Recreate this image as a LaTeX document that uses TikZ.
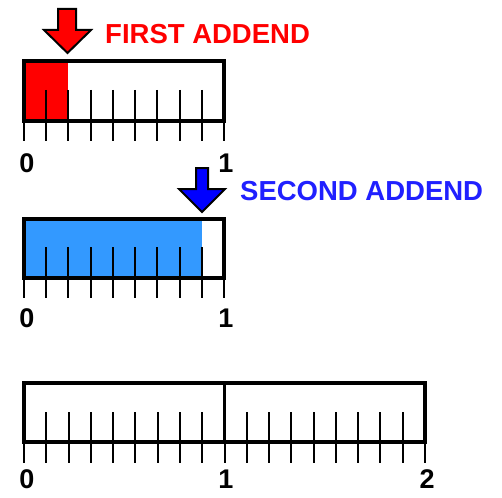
\documentclass[tikz,border=0pt]{standalone}
\usepackage{fontspec}
\setmainfont{Liberation Sans}
\begin{document}
\begin{tikzpicture}[x=1pt,y=-1pt,
  barbox/.style={draw=black,line width=3.4pt},
  tick/.style={draw=black,line width=2pt},
  arrowshape/.style={draw=black,line width=2pt,line join=miter},
  lbl/.style={font=\fontsize{27}{27}\selectfont\bfseries,inner sep=0pt,anchor=base},
  title/.style={font=\fontsize{27.5}{27.5}\selectfont\bfseries,inner sep=0pt,anchor=base west}]
\definecolor{addred}{HTML}{FF0000}
\definecolor{addblue}{HTML}{3399FF}
\definecolor{txtblue}{HTML}{2020FF}
\useasboundingbox (0,0) rectangle (502,497);
\fill[white] (0,0) rectangle (502,497);

% ---- bar 1 ----
\fill[addred] (24,61) rectangle ({24+2*200/9},121);
\foreach \i in {1,...,8} \draw[tick] ({24+\i*200/9},90) -- ({24+\i*200/9},121);
\foreach \i in {0,...,9} \draw[tick] ({24+\i*200/9},121) -- ({24+\i*200/9},141);
\draw[barbox] (24,61) rectangle (224,121);
\node[lbl] (a0) at (27,172) {0};
\node[lbl] (a1) at (226,172) {1};
% red arrow
\draw[arrowshape,fill=addred] (58,9) -- (76,9) -- (76,30) -- (91,30) -- (67.5,53) -- (44,30) -- (58,30) -- cycle;
\node[title,text=addred] (first) at (105,44) {FIRST ADDEND};

% ---- bar 2 ----
\fill[addblue] (24,219) rectangle ({24+8*200/9},278);
\foreach \i in {1,...,8} \draw[tick] ({24+\i*200/9},247) -- ({24+\i*200/9},278);
\foreach \i in {0,...,9} \draw[tick] ({24+\i*200/9},278) -- ({24+\i*200/9},298);
\draw[barbox] (24,219) rectangle (224,278);
\node[lbl] (b0) at (27,327) {0};
\node[lbl] (b1) at (226,327) {1};
% blue arrow
\draw[arrowshape,fill=blue] (196,168) -- (208,168) -- (208,189) -- (225,189) -- (202,212) -- (179,189) -- (196,189) -- cycle;
\node[title,text=txtblue] (second) at (240,200) {SECOND ADDEND};

% ---- bar 3 ----
\foreach \i in {1,...,17} \draw[tick] ({24+\i*401/18},412) -- ({24+\i*401/18},442);
\foreach \i in {0,...,18} \draw[tick] ({24+\i*401/18},442) -- ({24+\i*401/18},463);
\draw[barbox] (24,383) rectangle (425,442);
\draw[barbox] (224.5,383) -- (224.5,442);
\node[lbl] (c0) at (27,488) {0};
\node[lbl] (c1) at (226,488) {1};
\node[lbl] (c2) at (427,488) {2};
\end{tikzpicture}
\end{document}
